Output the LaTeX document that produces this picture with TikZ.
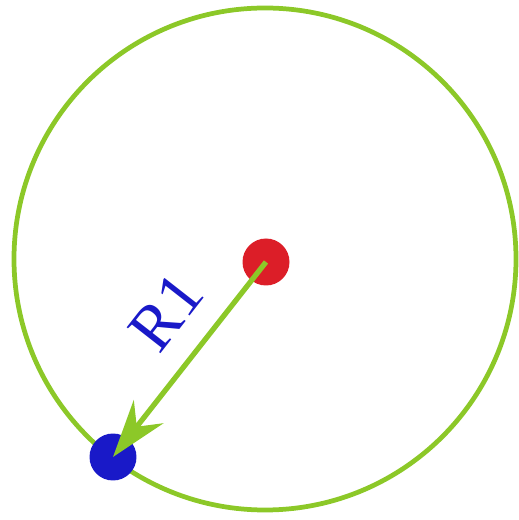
\documentclass[tikz,border=0pt]{standalone}
\usepackage{fontspec}
\setmainfont{Liberation Serif}
\definecolor{ringgreen}{RGB}{140,200,40}
\definecolor{dotred}{RGB}{220,30,40}
\definecolor{dotblue}{RGB}{25,25,200}
\usetikzlibrary{arrows.meta}

\begin{document}
\begin{tikzpicture}[x=0.02cm, y=0.02cm,
  dot/.style={circle, minimum size=0.94cm, inner sep=0pt}]
\useasboundingbox (0,0) rectangle (519,520);
% circle
\draw[ringgreen, line width=2.7pt] (265,261) circle[radius=251];
% points
\node[dot, fill=dotred] (centre) at (266,258) {};
\node[dot, fill=dotblue] (rim) at (113,63) {};
% radius
\draw[-{Stealth[length=1.15cm, width=0.75cm, inset=0.38cm]}, ringgreen, line width=3pt] (centre.center) -- (rim.center);
\node[dotblue, rotate=52, font=\fontsize{37}{42}\selectfont] (label) at (166,208) {R1};
\end{tikzpicture}
\end{document}
